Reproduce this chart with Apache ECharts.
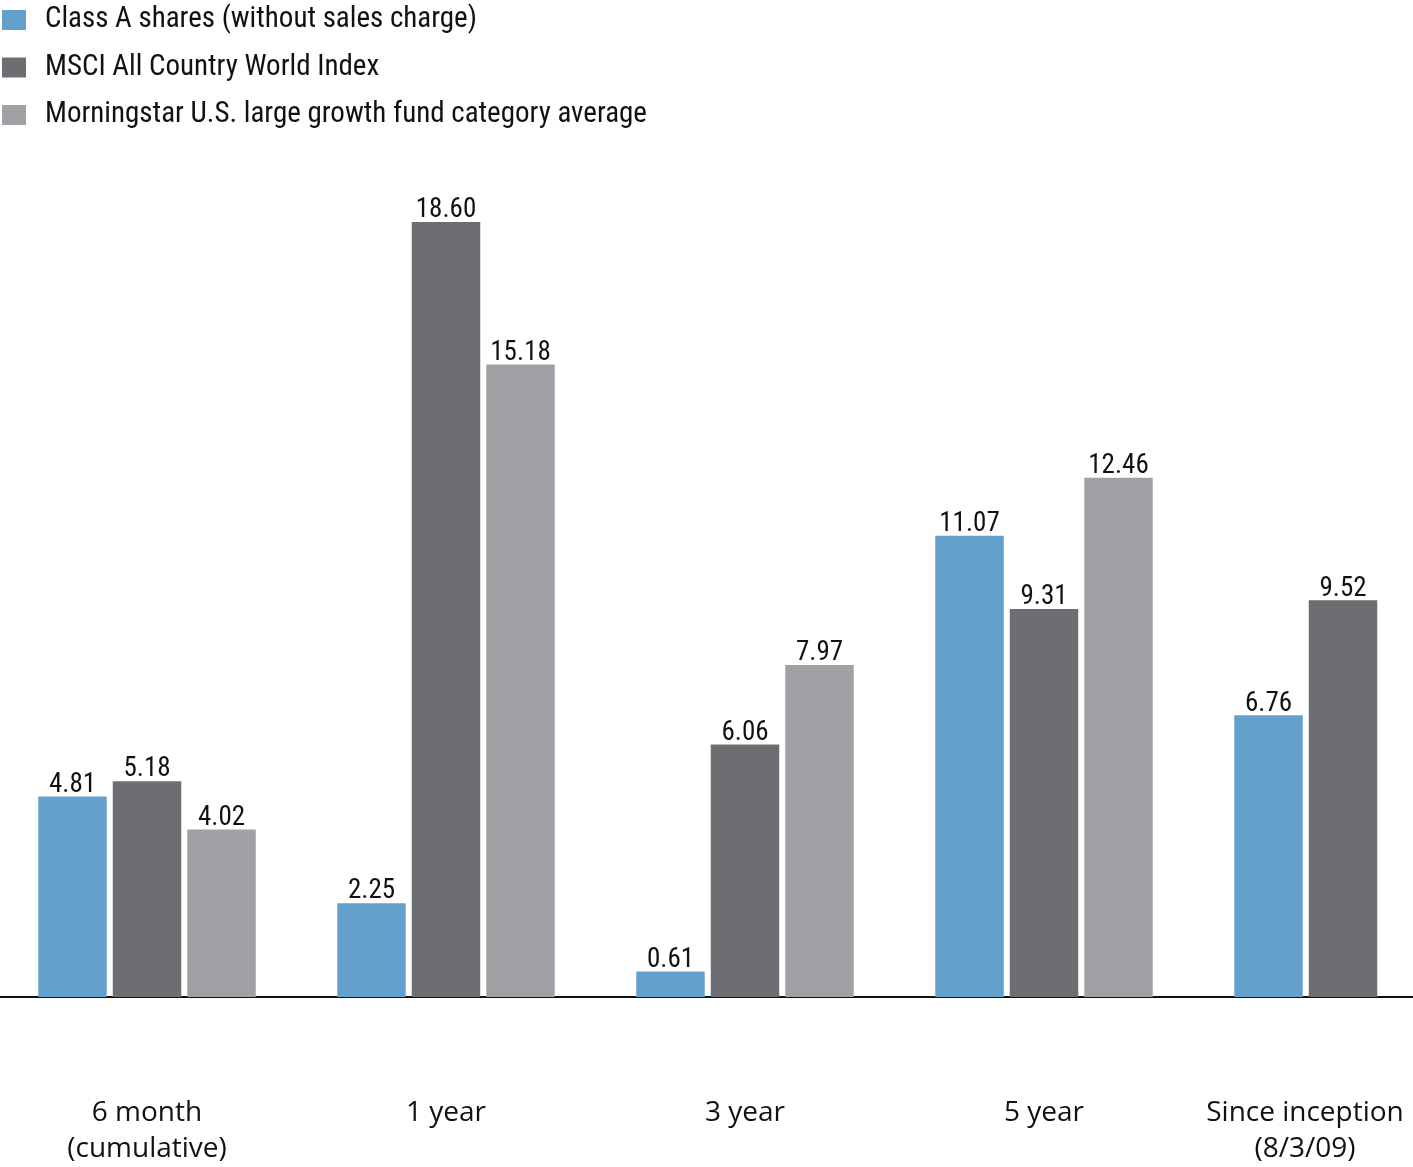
<!DOCTYPE html>
<html>
<head>
<meta charset="utf-8">
<script src="https://cdn.jsdelivr.net/npm/echarts@6/dist/echarts.min.js"></script>
<style>
html,body{margin:0;padding:0;background:#fff;}
#c{width:1413px;height:1167px;}
</style>
</head>
<body>
<div id="c"></div>
<script>
const categories = ['6 month\n(cumulative)', '1 year', '3 year', '5 year', 'Since inception\n(8/3/09)'];
const seriesNames = ['Class A shares (without sales charge)', 'MSCI All Country World Index', 'Morningstar U.S. large growth fund category average'];
const classA = [4.81, 2.25, 0.61, 11.07, 6.76];
const msci = [5.18, 18.60, 6.06, 9.31, 9.52];
const morningstar = [4.02, 15.18, 7.97, 12.46, null];
const colors = ['#64a0cc', '#6d6e72', '#a0a1a5'];

const chart = echarts.init(document.getElementById('c'));
const narrow = '"Roboto Condensed", Roboto, sans-serif';
const regular = '"Open Sans", "Noto Sans", sans-serif';
function mk(name, data, color) {
  return {
    name: name, type: 'bar', data: data, barWidth: 68.5, barGap: '8.76%',
    itemStyle: {color: color},
    label: {show: true, position: 'top', distance: -2, color: '#111', fontFamily: narrow, fontSize: 27,
      formatter: p => p.value.toFixed(2)},
    emphasis: {disabled: true}
  };
}
chart.setOption({
  animation: false,
  legend: {
    orient: 'vertical', left: 2, top: 5, padding: 0, itemWidth: 24, itemHeight: 20, itemGap: 17.5,
    icon: 'rect',
    textStyle: {fontFamily: narrow, fontSize: 29, color: '#111', lineHeight: 30, padding: [0,0,0,14]},
    data: seriesNames
  },
  grid: {left: -2.5, right: -79.5, top: 163.6, bottom: 170, containLabel: false, outerBoundsMode: 'none'},
  xAxis: {
    type: 'category', data: categories,
    axisLine: {lineStyle: {color: '#111', width: 2}},
    axisTick: {show: false},
    axisLabel: {
      margin: 98, color: '#111', fontFamily: regular, fontSize: 28, lineHeight: 36,
      interval: 0,
      formatter: (v, i) => i === 4 ? v.split('\n').map(s => '{s|' + s + '}').join('\n') : v,
      rich: {s: {fontFamily: regular, fontSize: 28, lineHeight: 36, color: '#111', padding: [0, 76, 0, 0]}}
    }
  },
  yAxis: {type: 'value', min: 0, max: 20, show: false, splitLine: {show: false}},
  series: [mk(seriesNames[0], classA, colors[0]), mk(seriesNames[1], msci, colors[1]), mk(seriesNames[2], morningstar, colors[2])]
});
</script>
</body>
</html>
